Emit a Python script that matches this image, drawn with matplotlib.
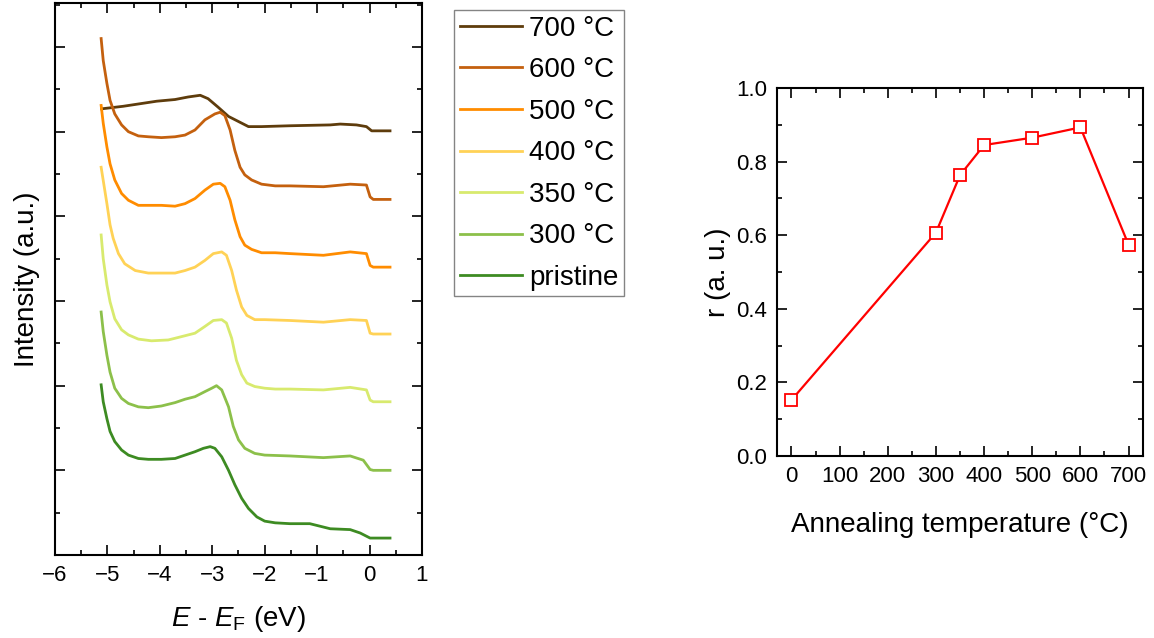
import matplotlib
matplotlib.use("Agg")
import matplotlib.pyplot as plt
from matplotlib.ticker import MultipleLocator

plt.rcParams['font.family'] = ['Liberation Sans', 'DejaVu Sans']
plt.rcParams['mathtext.fontset'] = 'custom'
plt.rcParams['mathtext.rm'] = 'Liberation Sans'
plt.rcParams['mathtext.it'] = 'Liberation Sans:italic'

# valence band spectra, stacked with offsets (E - EF in eV, intensity in a.u.)
e_700 = [-5.11, -4.70, -4.06, -3.71, -3.46, -3.23, -3.08, -2.89, -2.69, -2.50, -2.31, -2.06,
         -1.52, -0.75, -0.56, -0.25, -0.06, 0.04, 0.39]
i_700 = [5.27, 5.30, 5.36, 5.38, 5.41, 5.43, 5.39, 5.29, 5.18, 5.12, 5.06, 5.06,
         5.07, 5.08, 5.09, 5.08, 5.06, 5.01, 5.01]

e_600 = [-5.12, -5.08, -5.01, -4.95, -4.86, -4.73, -4.60, -4.41, -4.22, -3.97, -3.71, -3.52, -3.33,
         -3.14, -2.95, -2.85, -2.76, -2.66, -2.57, -2.47, -2.38, -2.25, -2.06, -1.80, -1.52, -0.88,
         -0.37, -0.06, 0.01, 0.07, 0.39]
i_600 = [6.10, 5.84, 5.57, 5.37, 5.21, 5.08, 5.00, 4.95, 4.94, 4.93, 4.94, 4.96, 5.02,
         5.14, 5.21, 5.23, 5.19, 5.02, 4.78, 4.58, 4.49, 4.43, 4.38, 4.36, 4.36, 4.35,
         4.38, 4.37, 4.23, 4.20, 4.20]

e_500 = [-5.12, -5.08, -5.01, -4.95, -4.86, -4.73, -4.60, -4.41, -4.22, -3.97, -3.71, -3.52, -3.33,
         -3.14, -2.98, -2.85, -2.76, -2.66, -2.57, -2.47, -2.38, -2.25, -2.06, -1.80, -1.52, -0.88,
         -0.37, -0.06, 0.01, 0.07, 0.39]
i_500 = [5.31, 5.10, 4.82, 4.62, 4.43, 4.27, 4.19, 4.13, 4.13, 4.13, 4.12, 4.15, 4.21,
         4.31, 4.38, 4.39, 4.35, 4.19, 3.96, 3.76, 3.66, 3.61, 3.57, 3.57, 3.56, 3.54,
         3.58, 3.56, 3.42, 3.40, 3.40]

e_400 = [-5.12, -5.01, -4.95, -4.89, -4.79, -4.67, -4.47, -4.22, -3.97, -3.71, -3.52, -3.33, -3.14,
         -2.98, -2.82, -2.73, -2.63, -2.54, -2.44, -2.34, -2.19, -2.00, -1.52, -0.88, -0.37, -0.06,
         0.01, 0.07, 0.39]
i_400 = [4.58, 4.15, 3.90, 3.74, 3.56, 3.44, 3.36, 3.33, 3.33, 3.33, 3.36, 3.40, 3.48,
         3.56, 3.58, 3.54, 3.36, 3.13, 2.93, 2.83, 2.78, 2.78, 2.77, 2.75, 2.78, 2.77,
         2.62, 2.61, 2.61]

e_350 = [-5.12, -5.08, -5.01, -4.95, -4.86, -4.73, -4.60, -4.41, -4.16, -3.84, -3.71, -3.52, -3.33,
         -3.14, -2.98, -2.82, -2.73, -2.63, -2.54, -2.44, -2.34, -2.19, -2.00, -1.80, -1.52, -0.88,
         -0.37, -0.06, 0.01, 0.07, 0.39]
i_350 = [3.78, 3.50, 3.19, 2.99, 2.79, 2.66, 2.60, 2.55, 2.53, 2.54, 2.56, 2.59, 2.62,
         2.70, 2.77, 2.78, 2.74, 2.56, 2.30, 2.13, 2.03, 1.99, 1.97, 1.96, 1.96, 1.95,
         1.98, 1.95, 1.83, 1.81, 1.81]

e_300 = [-5.12, -5.08, -5.01, -4.95, -4.86, -4.73, -4.60, -4.41, -4.22, -3.97, -3.71, -3.52, -3.33,
         -3.14, -3.01, -2.92, -2.82, -2.69, -2.60, -2.50, -2.38, -2.19, -2.00, -1.52, -0.88, -0.37,
         -0.12, 0.01, 0.07, 0.39]
i_300 = [2.87, 2.64, 2.36, 2.16, 1.97, 1.85, 1.79, 1.75, 1.74, 1.76, 1.80, 1.84, 1.87,
         1.93, 1.97, 2.00, 1.95, 1.75, 1.52, 1.36, 1.26, 1.20, 1.18, 1.17, 1.15, 1.17,
         1.12, 1.01, 1.00, 1.00]

e_pristine = [-5.12, -5.08, -5.01, -4.95, -4.86, -4.73, -4.60, -4.41, -4.22, -3.97, -3.71, -3.52,
              -3.33, -3.17, -3.04, -2.95, -2.82, -2.69, -2.57, -2.44, -2.31, -2.15, -2.00, -1.80,
              -1.52, -1.14, -0.75, -0.37, -0.18, 0.01, 0.39]
i_pristine = [2.01, 1.81, 1.61, 1.46, 1.34, 1.24, 1.18, 1.14, 1.13, 1.13, 1.14, 1.18,
              1.22, 1.26, 1.28, 1.26, 1.16, 1.00, 0.83, 0.67, 0.55, 0.45, 0.40, 0.38,
              0.37, 0.37, 0.31, 0.30, 0.26, 0.20, 0.20]

labels = ['700 °C', '600 °C', '500 °C', '400 °C', '350 °C', '300 °C', 'pristine']
colors = ['#5e3c0c', '#c4600e', '#ff8c00', '#ffd256', '#d8ea6e', '#8cc04a', '#3d8b22']

# ratio r vs annealing temperature
temps = [0, 300, 350, 400, 500, 600, 700]
r_vals = [0.152, 0.607, 0.763, 0.845, 0.865, 0.893, 0.574]

W, H = 1154, 638
fig = plt.figure(figsize=(W / 100, H / 100), dpi=100)


def box(x0, y0, x1, y1):
    return [x0 / W, 1 - y1 / H, (x1 - x0) / W, (y1 - y0) / H]


def style(ax):
    ax.tick_params(which='both', direction='in', top=True, right=True, width=1.2)
    ax.tick_params(which='major', length=7)
    ax.tick_params(which='minor', length=3.5)
    for s in ax.spines.values():
        s.set_linewidth(1.5)


ax1 = fig.add_axes(box(55, 3, 422, 555))
curves = [(e_700, i_700), (e_600, i_600), (e_500, i_500), (e_400, i_400),
          (e_350, i_350), (e_300, i_300), (e_pristine, i_pristine)]
for (e, i), lab, c in zip(curves, labels, colors):
    ax1.plot(e, i, color=c, lw=2, label=lab, solid_joinstyle='round')
ax1.set_xlim(-6, 1)
ax1.set_ylim(0, 6.52)
ax1.xaxis.set_major_locator(MultipleLocator(1))
ax1.xaxis.set_minor_locator(MultipleLocator(0.5))
ax1.yaxis.set_major_locator(MultipleLocator(1))
ax1.yaxis.set_minor_locator(MultipleLocator(0.5))
ax1.set_yticklabels([])
style(ax1)
ax1.tick_params(axis='x', labelsize=16, pad=7)
ax1.set_xlabel(r'$E$ - $E_\mathrm{F}$ (eV)', fontsize=20, labelpad=13)
ax1.set_ylabel('Intensity (a.u.)', fontsize=20, labelpad=7)

leg = ax1.legend(loc='upper left', bbox_to_anchor=(454 / W, 1 - 10 / H),
                 bbox_transform=fig.transFigure, fontsize=20, frameon=True,
                 fancybox=False, edgecolor='#666666', handlelength=2.25,
                 handletextpad=0.25, labelspacing=0.56, borderpad=0.2,
                 borderaxespad=0)
leg.get_frame().set_linewidth(1.0)

ax2 = fig.add_axes(box(777, 88, 1143, 456))
ax2.plot(temps, r_vals, color='red', lw=1.6, marker='s', ms=8,
         mfc='white', mec='red', mew=1.3)
ax2.set_xlim(-30, 730)
ax2.set_ylim(0, 1.0)
ax2.xaxis.set_major_locator(MultipleLocator(100))
ax2.xaxis.set_minor_locator(MultipleLocator(50))
ax2.yaxis.set_major_locator(MultipleLocator(0.2))
ax2.yaxis.set_minor_locator(MultipleLocator(0.1))
ax2.yaxis.set_major_formatter(plt.FormatStrFormatter('%.1f'))
style(ax2)
ax2.tick_params(labelsize=16, pad=7)
ax2.set_xlabel('Annealing temperature (°C)', fontsize=20, labelpad=18)
ax2.set_ylabel('r (a. u.)', fontsize=20, labelpad=4)

fig.savefig('out.png', dpi=100)
